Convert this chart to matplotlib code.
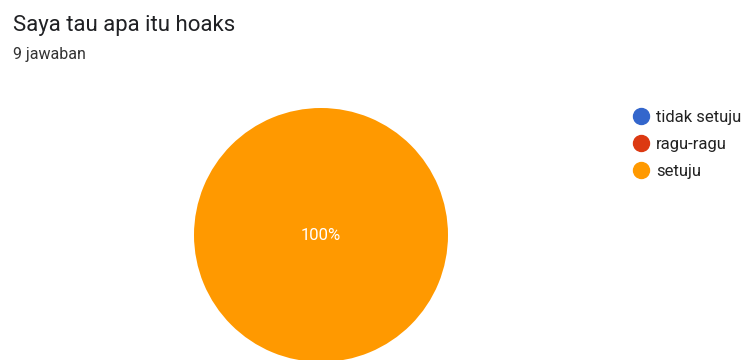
import matplotlib.pyplot as plt
from matplotlib.lines import Line2D

categories = ["tidak setuju", "ragu-ragu", "setuju"]
counts = [0, 0, 9]
colors = ["#3366CC", "#DC3912", "#FF9900"]

plt.rcParams["font.family"] = ["Roboto", "DejaVu Sans"]

fig = plt.figure(figsize=(7.45, 3.6), dpi=100)
fig.text(13 / 745, 1 - 26 / 360, "Saya tau apa itu hoaks", fontsize=16,
         color="#202124", va="center", ha="left")
fig.text(13 / 745, 1 - 55 / 360, "9 jawaban", fontsize=11.5,
         color="#333333", va="center", ha="left")

# pie centred at about (321, 236) px with radius 127 px
ax = fig.add_axes([194 / 745, -2 / 360, 254 / 745, 254 / 360])
wedges, texts, autotexts = ax.pie(
    counts, colors=colors, startangle=90, counterclock=False,
    autopct=lambda p: f"{p:.0f}%" if p > 0 else "",
    pctdistance=0, textprops={"color": "white", "fontsize": 12},
    wedgeprops={"linewidth": 0})
ax.set_xlim(-1, 1)
ax.set_ylim(-1, 1)
ax.set_aspect("equal")
ax.axis("off")

handles = [Line2D([], [], marker="o", linestyle="none", markersize=11.5,
                  markerfacecolor=c, markeredgecolor=c) for c in colors]
fig.legend(handles, categories, loc="upper left",
           bbox_to_anchor=(618 / 745, 1 - 95 / 360), frameon=False,
           fontsize=12, labelcolor="#222222", handletextpad=0.4,
           labelspacing=0.72, handlelength=1.0)

fig.savefig("out.png", dpi=100)
